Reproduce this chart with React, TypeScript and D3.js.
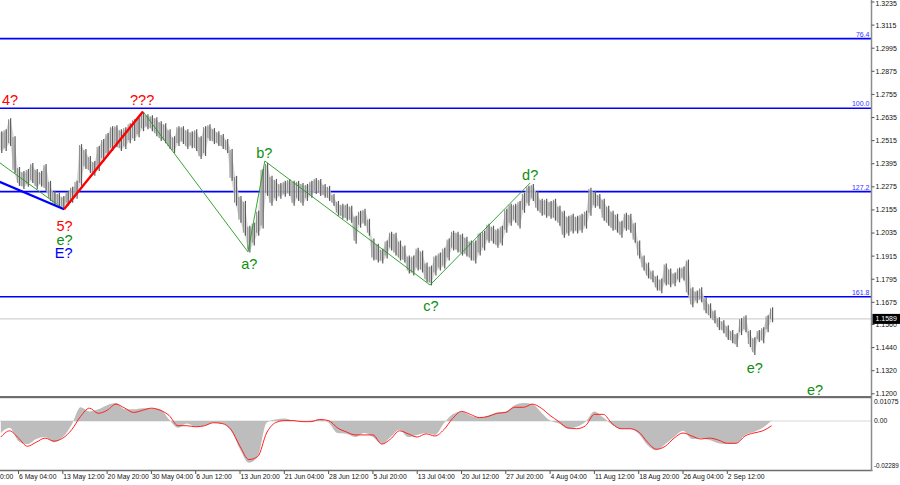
import React from 'react';
import * as d3 from 'd3';

// ---- price bars (high / low), one entry per sample ----
const highs = [
  1.2564,1.2574,1.2631,1.2538,1.2378,1.2357,1.2368,1.2399,1.2368,1.2357,
  1.2394,1.2306,1.2254,1.2244,1.2228,1.2254,1.2275,1.2306,1.2497,1.2471,
  1.2435,1.2409,1.2487,1.2523,1.2554,1.2590,1.2595,1.2574,1.2585,1.2605,
  1.2626,1.2637,1.2662,1.2652,1.2647,1.2637,1.2616,1.2605,1.2574,1.2538,
  1.2590,1.2590,1.2574,1.2564,1.2574,1.2538,1.2590,1.2600,1.2580,1.2564,
  1.2549,1.2523,1.2471,1.2332,1.2228,1.2202,1.2073,1.2089,1.2151,1.2368,
  1.2399,1.2332,1.2316,1.2295,1.2306,1.2316,1.2306,1.2306,1.2295,1.2290,
  1.2306,1.2321,1.2316,1.2290,1.2280,1.2238,1.2202,1.2187,1.2187,1.2177,
  1.2125,1.2151,1.2161,1.2109,1.2006,1.1980,1.1954,1.1996,1.2042,1.2037,
  1.1996,1.1970,1.1918,1.1918,1.1959,1.1944,1.1882,1.1866,1.1918,1.1934,
  1.1959,1.2006,1.2047,1.2042,1.2032,1.2016,1.1996,1.1996,1.2037,1.2047,
  1.2083,1.2073,1.2058,1.2073,1.2161,1.2187,1.2187,1.2202,1.2244,1.2280,
  1.2290,1.2254,1.2213,1.2213,1.2202,1.2213,1.2177,1.2151,1.2125,1.2135,
  1.2125,1.2135,1.2151,1.2270,1.2254,1.2238,1.2213,1.2177,1.2151,1.2135,
  1.2099,1.2140,1.2135,1.2089,1.1996,1.1918,1.1882,1.1841,1.1815,1.1799,
  1.1877,1.1851,1.1830,1.1856,1.1861,1.1897,1.1753,1.1737,1.1753,1.1701,
  1.1670,1.1634,1.1598,1.1582,1.1556,1.1531,1.1515,1.1593,1.1608,1.1531,
  1.1494,1.1531,1.1546,1.1608,1.1649,
];
const lows = [
  1.2451,1.2461,1.2487,1.2347,1.2280,1.2264,1.2275,1.2295,1.2264,1.2275,
  1.2254,1.2202,1.2177,1.2171,1.2156,1.2177,1.2192,1.2213,1.2280,1.2368,
  1.2347,1.2332,1.2357,1.2409,1.2435,1.2461,1.2481,1.2461,1.2471,1.2502,
  1.2513,1.2533,1.2564,1.2574,1.2564,1.2538,1.2513,1.2502,1.2471,1.2451,
  1.2487,1.2497,1.2471,1.2476,1.2461,1.2419,1.2435,1.2513,1.2497,1.2487,
  1.2471,1.2451,1.2306,1.2177,1.2089,1.2021,1.1934,1.1970,1.2021,1.2058,
  1.2228,1.2177,1.2202,1.2213,1.2223,1.2228,1.2177,1.2202,1.2177,1.2202,
  1.2218,1.2238,1.2228,1.2218,1.2202,1.2177,1.2125,1.2109,1.2099,1.2089,
  1.1980,1.2063,1.2073,1.2021,1.1892,1.1882,1.1877,1.1903,1.1944,1.1918,
  1.1892,1.1882,1.1825,1.1815,1.1841,1.1830,1.1779,1.1763,1.1815,1.1841,
  1.1851,1.1892,1.1944,1.1934,1.1918,1.1913,1.1892,1.1877,1.1918,1.1944,
  1.1985,1.1980,1.1959,1.1970,1.2037,1.2073,1.2089,1.2058,1.2140,1.2177,
  1.2202,1.2151,1.2125,1.2115,1.2109,1.2099,1.2073,1.2011,1.2021,1.2032,
  1.2032,1.2037,1.2058,1.2125,1.2166,1.2161,1.2099,1.2073,1.2047,1.2037,
  1.2011,1.2047,1.2037,1.1985,1.1903,1.1841,1.1799,1.1779,1.1737,1.1722,
  1.1763,1.1753,1.1758,1.1779,1.1789,1.1711,1.1649,1.1670,1.1675,1.1618,
  1.1593,1.1567,1.1531,1.1515,1.1479,1.1463,1.1443,1.1505,1.1520,1.1443,
  1.1401,1.1469,1.1463,1.1520,1.1572,
];

// ---- oscillator (every second sample) ----
const oscHist = [
  -0.0056,-0.0032,-0.0094,-0.0108,-0.0084,-0.0075,-0.0099,-0.0075,-0.0017,0.0064,
  0.0045,0.0055,0.0074,0.0084,0.0055,0.0055,0.0060,0.0060,0.0055,0.0007,
  -0.0032,-0.0012,-0.0027,-0.0022,-0.0008,-0.0012,-0.0046,-0.0132,-0.0195,-0.0166,
  -0.0008,0.0007,0.0012,0.0002,-0.0003,0.0002,0.0007,-0.0008,-0.0056,-0.0060,
  -0.0075,-0.0056,-0.0075,-0.0108,-0.0075,-0.0041,-0.0075,-0.0065,-0.0056,-0.0065,
  -0.0012,0.0031,0.0045,0.0026,0.0016,0.0026,0.0040,0.0045,0.0074,0.0084,
  0.0079,0.0040,0.0002,-0.0012,-0.0036,-0.0027,-0.0003,0.0045,0.0016,-0.0017,
  -0.0036,-0.0036,-0.0060,-0.0113,-0.0137,-0.0108,-0.0075,-0.0046,-0.0084,-0.0080,
  -0.0089,-0.0104,-0.0108,-0.0104,-0.0065,-0.0051,-0.0032,0.0002,
];
const oscSignal = [
  -0.0075,-0.0046,-0.0080,-0.0118,-0.0099,-0.0080,-0.0094,-0.0080,-0.0041,0.0021,
  0.0060,0.0036,0.0050,0.0079,0.0060,0.0040,0.0050,0.0060,0.0050,0.0026,
  -0.0022,-0.0022,-0.0027,-0.0022,-0.0008,-0.0012,-0.0041,-0.0118,-0.0180,-0.0166,
  -0.0056,-0.0008,0.0002,0.0002,-0.0003,-0.0003,0.0007,0.0002,-0.0032,-0.0051,
  -0.0065,-0.0065,-0.0065,-0.0108,-0.0084,-0.0046,-0.0060,-0.0075,-0.0060,-0.0070,
  -0.0041,0.0012,0.0045,0.0031,0.0016,0.0021,0.0036,0.0040,0.0064,0.0064,
  0.0079,0.0060,0.0026,-0.0003,-0.0032,-0.0036,-0.0022,0.0031,0.0031,-0.0012,
  -0.0036,-0.0036,-0.0051,-0.0099,-0.0132,-0.0118,-0.0080,-0.0056,-0.0070,-0.0084,
  -0.0080,-0.0089,-0.0104,-0.0104,-0.0070,-0.0056,-0.0046,-0.0022,
];

// ---- axes ----
const priceTicks = [1.3235,1.3115,1.2995,1.2875,1.2755,1.2635,1.2515,1.2395,1.2275,1.2155,1.2035,1.1915,1.1795,1.1675,1.1560,1.1440,1.1320,1.1200];
const oscTicks = [0.01075, 0, -0.02289];
const oscTickLabels = ['0.01075', '0.00', '-0.02289'];
const timeLabels = ['28 Apr 20:00','6 May 04:00','13 May 12:00','20 May 20:00','30 May 04:00','6 Jun 12:00','13 Jun 20:00','21 Jun 04:00','28 Jun 12:00','5 Jul 20:00','13 Jul 04:00','20 Jul 12:00','27 Jul 20:00','4 Aug 04:00','11 Aug 12:00','18 Aug 20:00','26 Aug 04:00','2 Sep 12:00'];
const timeLabelIndex = [-6,4,14,24,34,44,54,64,74,84,94,104,114,124,134,144,154,164];

// ---- levels ----
const fibNames = ['76.4', '100.0', '127.2', '161.8'];
const fibPrices = [1.3045, 1.2683, 1.2250, 1.1704];
const lastPrice = 1.1589;

// ---- wave lines: [sample index, price] ----
const waveBigE = [[-3, 1.2328], [14.27, 1.2158]];
const waveSmallE = [[-3, 1.2446], [14.27, 1.2158]];
const waveRed = [[14.27, 1.2158], [32.1, 1.2666]];
const waveGreen = [[32.1, 1.2666], [55.8, 1.1937], [59.6, 1.2409], [96.9, 1.1765], [119.5, 1.2295]];

// ---- wave labels ----
const labelText = ['4?', '???', '5?', 'e?', 'E?', 'a?', 'b?', 'c?', 'd?', 'e?', 'e?'];
const labelIndex = [2.1, 31.9, 14.4, 14.4, 14.2, 56.1, 59.5, 97.1, 119.5, 170.2, 183.8];
const labelPrice = [1.2700, 1.2700, 1.2046, 1.1973, 1.1905, 1.1848, 1.2425, 1.1630, 1.2310, 1.1308, 1.1194];
const labelKind = ['red', 'red', 'red', 'green', 'blue', 'green', 'green', 'green', 'green', 'green', 'green'];

const COLORS: Record<string, string> = { red: '#ff0000', green: '#0e8f0e', blue: '#0000ff' };

export default function App() {
  const W = 900, H = 485;
  const axisX = 871.5;
  const mainBottom = 396;
  const oscTop = 398, oscBottom = 470;

  const x = d3.scaleLinear().domain([0, highs.length - 1]).range([0.8, 771.6]);
  const y = d3.scaleLinear().domain([1.12, 1.3235]).range([393.8, 2.0]);
  const yo = d3.scaleLinear().domain([-0.02289, 0.01075]).range([oscBottom, oscTop]);

  const line = d3.line<number[]>().x(d => x(d[0])).y(d => y(d[1]));
  const oscX = (j: number) => x(j * 2);
  const histArea = d3.area<number>().x((_, j) => oscX(j)).y0(yo(0)).y1(d => yo(d)).curve(d3.curveMonotoneX);
  const sigLine = d3.line<number>().x((_, j) => oscX(j)).y(d => yo(d)).curve(d3.curveMonotoneX);
  const band = d3.area<number>().x((_, i) => x(i)).y0((_, i) => y(lows[i]) - 2).y1(d => y(d) + 2).curve(d3.curveMonotoneX);

  const font = "'Liberation Sans', Arial, sans-serif";
  const step = x(1) - x(0);

  return (
    <svg width={W} height={H} style={{ position: 'absolute', left: 0, top: 0, background: '#fff' }}>
      <defs>
        <clipPath id="mainClip"><rect x={0} y={0} width={axisX} height={mainBottom} /></clipPath>
        <clipPath id="oscClip"><rect x={0} y={oscTop} width={axisX} height={oscBottom - oscTop} /></clipPath>
      </defs>
      <rect x={0} y={0} width={W} height={H} fill="#fff" />

      <g clipPath="url(#mainClip)">
        {/* fib levels */}
        {fibPrices.map((p, k) => (
          <line key={'f' + k} x1={0} x2={axisX} y1={y(p)} y2={y(p)} stroke="#0000ff" strokeWidth={1.6} />
        ))}
        {fibPrices.map((p, k) => (
          <text key={'ft' + k} x={axisX - 2} y={y(p) - 2} fontSize={7} fontFamily={font} fill="#3333ff" textAnchor="end">{fibNames[k]}</text>
        ))}
        <line x1={0} x2={axisX} y1={y(lastPrice)} y2={y(lastPrice)} stroke="#c8c8c8" strokeWidth={1} />

        {/* bars: soft band plus stems */}
        <path d={band(highs) || ''} fill="#d2d2d2" opacity={0.85} />
        {highs.map((h, i) => (
          <g key={'b' + i}>
            <line x1={x(i) - step * 0.25} x2={x(i) - step * 0.25} y1={y(h) + 1} y2={y(lows[i]) - 3} stroke="#8a8a8a" strokeWidth={1} />
            <line x1={x(i) + step * 0.22} x2={x(i) + step * 0.22} y1={y(h)} y2={y(lows[i])} stroke="#5c5c5c" strokeWidth={1.2} />
          </g>
        ))}

        {/* wave lines */}
        <path d={line(waveSmallE as any) || ''} fill="none" stroke="#1f9a1f" strokeWidth={0.9} />
        <path d={line(waveGreen as any) || ''} fill="none" stroke="#1f9a1f" strokeWidth={0.9} />
        <path d={line(waveBigE as any) || ''} fill="none" stroke="#0000ff" strokeWidth={2.2} />
        <path d={line(waveRed as any) || ''} fill="none" stroke="#ff0000" strokeWidth={2.4} />

        {labelText.map((t, k) => (
          <text key={'l' + k} x={x(labelIndex[k])} y={y(labelPrice[k])} fontSize={14.5} fontFamily={font}
            fill={COLORS[labelKind[k]]} textAnchor="middle">{t}</text>
        ))}
      </g>

      {/* panel separators */}
      <rect x={0} y={mainBottom} width={axisX} height={2.2} fill="#6e6e6e" />

      {/* oscillator */}
      <g clipPath="url(#oscClip)">
        <line x1={0} x2={axisX} y1={yo(0)} y2={yo(0)} stroke="#d8d8d8" strokeWidth={1} />
        <path d={histArea(oscHist) || ''} fill="#bdbdbd" />
        <path d={sigLine(oscSignal) || ''} fill="none" stroke="#ff2020" strokeWidth={1} />
      </g>
      <line x1={0} x2={axisX + 1} y1={oscBottom + 0.5} y2={oscBottom + 0.5} stroke="#6e6e6e" strokeWidth={1.5} />

      {/* right axis */}
      <line x1={axisX} x2={axisX} y1={0} y2={oscBottom + 1} stroke="#8c8c8c" strokeWidth={1.5} />
      {priceTicks.map((p, k) => (
        <g key={'pt' + k}>
          <line x1={axisX} x2={axisX + 3} y1={y(p)} y2={y(p)} stroke="#555" strokeWidth={1} />
          <text x={axisX + 4} y={Math.max(y(p), 3.5)} dy="0.35em" fontSize={7} fontFamily={font} fill="#111">{p.toFixed(4)}</text>
        </g>
      ))}
      <rect x={axisX + 1} y={y(lastPrice) - 5} width={W - axisX - 1} height={10} fill="#000" />
      <text x={axisX + 4} y={y(lastPrice)} dy="0.35em" fontSize={7} fontFamily={font} fill="#fff">{lastPrice.toFixed(4)}</text>

      {oscTicks.map((v, k) => (
        <text key={'ot' + k} x={axisX + 2.5} y={k === 0 ? yo(v) + 4 : k === 2 ? yo(v) - 4 : yo(v)} dy="0.35em"
          fontSize={k === 2 ? 6.3 : 6.8} fontFamily={font} fill="#111">{oscTickLabels[k]}</text>
      ))}

      {/* time axis */}
      {timeLabels.map((t, k) => (
        <g key={'tl' + k}>
          <line x1={x(timeLabelIndex[k])} x2={x(timeLabelIndex[k])} y1={oscBottom + 1} y2={oscBottom + 4} stroke="#555" strokeWidth={1} />
          <text x={x(timeLabelIndex[k]) + 0.5} y={oscBottom + 9} fontSize={6.8} fontFamily={font} fill="#111">{t}</text>
        </g>
      ))}
    </svg>
  );
}
